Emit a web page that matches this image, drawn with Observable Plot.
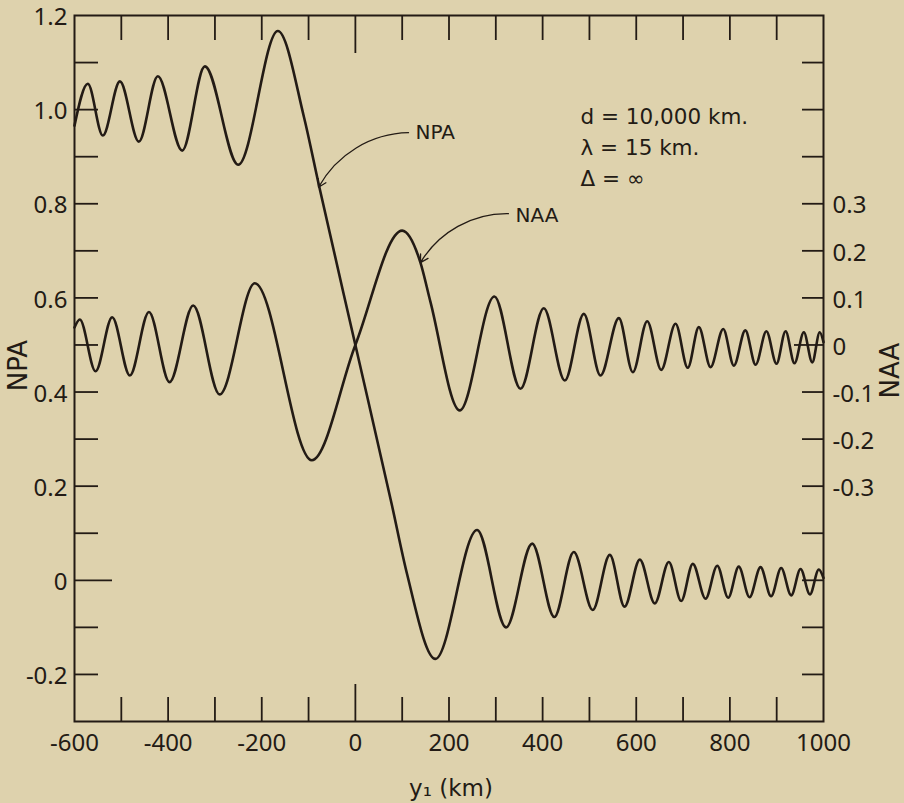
<!DOCTYPE html>
<html><head><meta charset="utf-8">
<script src="https://cdn.jsdelivr.net/npm/d3@7"></script>
<script src="https://cdn.jsdelivr.net/npm/@observablehq/plot@0.6"></script>
<style>
html,body{margin:0;padding:0;background:#DED2AD;}
#chart svg{display:block;}
</style></head><body><div id="chart"></div>
<script>
// NPA curve (left axis) — extrema and key points
const npaX = [-600, -571.6, -539.5, -503, -462.6, -422, -370, -321.6, -250.3, -165.6, -110, -78, 0, 78, 110, 171,
  260, 322, 377.7, 425, 466.6, 507, 543.5, 575, 607.6, 639.6, 669.6, 696, 720.8, 748, 773, 796.4,
  819, 842, 865.5, 888, 909.6, 931, 951, 971, 990, 1000];
const npaY = [0.966, 1.055, 0.945, 1.06, 0.932, 1.071, 0.913, 1.092, 0.883, 1.167, 0.985, 0.84, 0.5, 0.16, 0.015, -0.167,
  0.107, -0.100, 0.078, -0.078, 0.06, -0.063, 0.054, -0.056, 0.044, -0.049, 0.039, -0.044, 0.035, -0.039, 0.031, -0.037,
  0.029, -0.036, 0.028, -0.034, 0.026, -0.032, 0.024, -0.030, 0.023, 0.005];

// NAA curve (right axis units)
const naaX = [-600, -588.7, -555, -519.5, -481.8, -441, -397, -346.4, -290, -214.8, -93, 0, 100,
  139, 160.5, 223, 297, 352.8, 402.5, 447.4, 488, 523.6, 562.8, 592.7, 623.4, 653.3, 683.9, 710, 733.7,
  758.7, 785.8, 808.5, 833, 855, 878, 899.6, 919, 938, 958, 976, 992, 1000];
const naaY = [0.037, 0.054, -0.056, 0.059, -0.065, 0.07, -0.079, 0.084, -0.105, 0.131, -0.245, 0, 0.243,
  0.175, 0.091, -0.139, 0.103, -0.093, 0.078, -0.0755, 0.066, -0.065, 0.057, -0.058, 0.0505, -0.053, 0.045, -0.0485, 0.038,
  -0.047, 0.034, -0.044, 0.031, -0.042, 0.029, -0.04, 0.029, -0.039, 0.027, -0.037, 0.027, 0.006];

// Axis ticks and labels
const xMinorTicks = [-500, -400, -300, -200, -100, 100, 200, 300, 400, 500, 600, 700, 800, 900];
const xLabelTicks = [-600, -400, -200, 0, 200, 400, 600, 800, 1000];
const xLabels = ["-600", "-400", "-200", "0", "200", "400", "600", "800", "1000"];
const npaMinorTicks = [-0.2, -0.1, 0.1, 0.2, 0.3, 0.4, 0.5, 0.6, 0.7, 0.8, 0.9, 1.0, 1.1];
const npaLabelTicks = [1.2, 1.0, 0.8, 0.6, 0.4, 0.2, 0, -0.2];
const npaLabels = ["1.2", "1.0", "0.8", "0.6", "0.4", "0.2", "0", "-0.2"];
const naaMinorTicks = [-0.7, -0.6, -0.5, -0.4, -0.3, -0.2, -0.1, 0.1, 0.2, 0.3, 0.4, 0.5, 0.6];
const naaLabelTicks = [0.3, 0.2, 0.1, 0, -0.1, -0.2, -0.3];
const naaLabels = ["0.3", "0.2", "0.1", "0", "-0.1", "-0.2", "-0.3"];
const naaOffset = 0.5; // NAA zero sits at NPA 0.5

const ink = "#231b15";
const tickFont = "'Noto Sans', 'DejaVu Sans', sans-serif";
const textFont = "'DejaVu Sans', sans-serif";

const npaData = npaX.map((x, i) => ({x, v: npaY[i]}));
const naaData = naaX.map((x, i) => ({x, v: naaY[i]}));
const xLab = new Map(xLabelTicks.map((t, i) => [t, xLabels[i]]));
const npaLab = new Map(npaLabelTicks.map((t, i) => [t, npaLabels[i]]));
const naaLab = new Map(naaLabelTicks.map((t, i) => [+(t + naaOffset).toFixed(2), naaLabels[i]]));
const blank = () => "";

const chart = Plot.plot({
  width: 904,
  height: 803,
  marginLeft: 74,
  marginRight: 81,
  marginTop: 15,
  marginBottom: 82,
  style: {background: "#DED2AD", color: ink, fontFamily: tickFont, fontSize: "24px"},
  x: {domain: [-600, 1000], label: null},
  y: {domain: [-0.3, 1.2], label: null},
  marks: [
    Plot.frame({stroke: ink, strokeWidth: 2}),
    // x ticks (bottom & top, inward)
    Plot.axisX(xMinorTicks, {anchor: "bottom", tickSize: -24, tickFormat: blank, strokeWidth: 1.8}),
    Plot.axisX([0], {anchor: "bottom", tickSize: -37, tickFormat: blank, strokeWidth: 1.8}),
    Plot.axisX(xMinorTicks, {anchor: "top", tickSize: -24, tickFormat: blank, strokeWidth: 1.8}),
    Plot.axisX([0], {anchor: "top", tickSize: -37, tickFormat: blank, strokeWidth: 1.8}),
    Plot.axisX(xLabelTicks, {anchor: "bottom", tickSize: 0, tickPadding: 12, tickFormat: d => xLab.get(d), fontSize: 24}),
    // left NPA axis
    Plot.axisY(npaMinorTicks, {anchor: "left", tickSize: -24, tickFormat: blank, strokeWidth: 1.8}),
    Plot.axisY([0], {anchor: "left", tickSize: -38, tickFormat: blank, strokeWidth: 1.8}),
    Plot.axisY(npaLabelTicks, {anchor: "left", tickSize: 0, tickPadding: 7, dy: 2, tickFormat: d => npaLab.get(d), fontSize: 24}),
    // right NAA axis
    Plot.axisY(naaMinorTicks.map(t => +(t + naaOffset).toFixed(2)), {anchor: "right", tickSize: -22, tickFormat: blank, strokeWidth: 1.8}),
    Plot.axisY([naaOffset], {anchor: "right", tickSize: -30, tickFormat: blank, strokeWidth: 1.8}),
    Plot.axisY(naaLabelTicks.map(t => +(t + naaOffset).toFixed(2)), {anchor: "right", tickSize: 0, tickPadding: 9, dy: 2, tickFormat: d => naaLab.get(+d.toFixed(2)), fontSize: 24}),
    // curves
    Plot.line(npaData, {x: "x", y: "v", curve: "monotone-x", stroke: ink, strokeWidth: 2.6}),
    Plot.line(naaData, {x: "x", y: d => d.v + naaOffset, curve: "monotone-x", stroke: ink, strokeWidth: 2.6}),
    // curve labels with arrows
    Plot.arrow([{x1: 113.5, y1: 0.951, x2: -78.8, y2: 0.835}], {x1: "x1", y1: "y1", x2: "x2", y2: "y2", bend: -30, headLength: 10, stroke: ink, strokeWidth: 1.3}),
    Plot.arrow([{x1: 327, y1: 0.779, x2: 139, y2: 0.675}], {x1: "x1", y1: "y1", x2: "x2", y2: "y2", bend: -30, headLength: 10, stroke: ink, strokeWidth: 1.3}),
    Plot.text(["NPA"], {x: 128.4, y: 0.951, text: d => d, textAnchor: "start", fontFamily: textFont, fontSize: 20, fill: ink}),
    Plot.text(["NAA"], {x: 342, y: 0.775, text: d => d, textAnchor: "start", fontFamily: textFont, fontSize: 20, fill: ink}),
    Plot.text(["d = 10,000 km.\nλ = 15 km.\nΔ = ∞"], {x: 481, y: 0.924, text: d => d, textAnchor: "start", lineHeight: 1.44, fontFamily: textFont, fontSize: 21.5, fill: ink}),
    // axis titles
    Plot.text(["NPA"], {frameAnchor: "left", textAnchor: "middle", lineAnchor: "middle", dx: -56, dy: -3, rotate: -90, text: d => d, fontFamily: textFont, fontSize: 26, fill: ink}),
    Plot.text(["NAA"], {frameAnchor: "right", textAnchor: "middle", lineAnchor: "middle", dx: 67, dy: 2, rotate: -90, text: d => d, fontFamily: textFont, fontSize: 26, fill: ink}),
    Plot.text(["y₁ (km)"], {frameAnchor: "bottom", textAnchor: "middle", lineAnchor: "middle", dx: 2, dy: 67, text: d => d, fontFamily: textFont, fontSize: 23, fill: ink})
  ]
});
// condensed lettering for the tick labels
chart.querySelectorAll('g[aria-label$="tick label"]').forEach(g => {
  g.style.fontStretch = "condensed";
});
document.getElementById("chart").appendChild(chart);
</script>
</body></html>
